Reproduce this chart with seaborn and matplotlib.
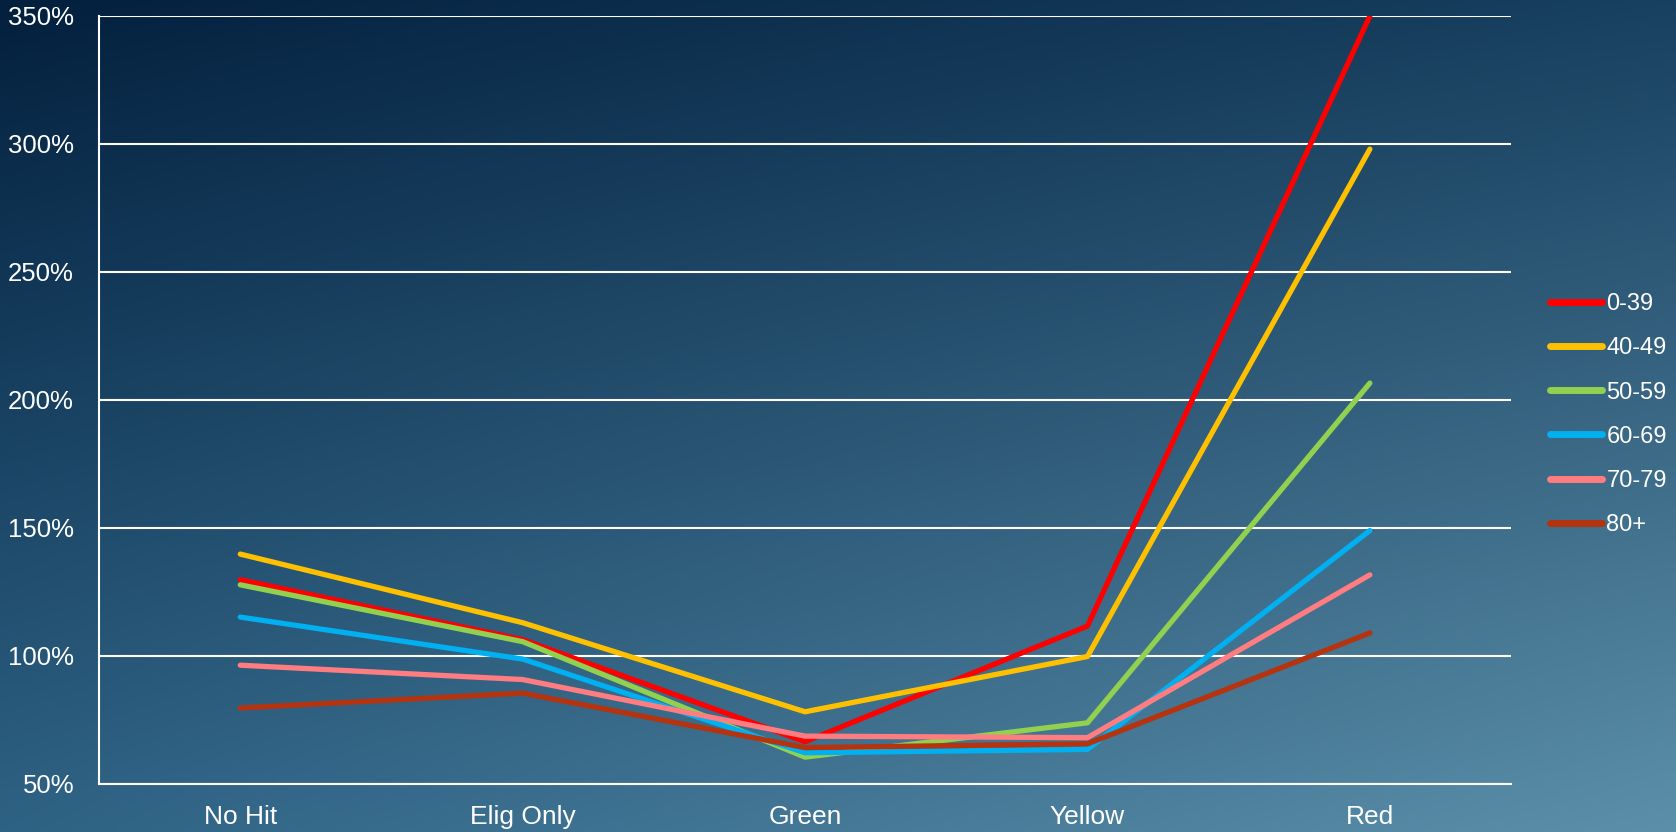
import numpy as np
import pandas as pd
import matplotlib
matplotlib.use('Agg')
import matplotlib.pyplot as plt
from matplotlib.ticker import FuncFormatter, FixedLocator
import seaborn as sns

# categories and series
categories = ['No Hit', 'Elig Only', 'Green', 'Yellow', 'Red']
groups = ['0-39', '40-49', '50-59', '60-69', '70-79', '80+']
v_0_39 = [129.8, 106.4, 66.5, 111.7, 350.0]
v_40_49 = [139.8, 113.0, 78.2, 99.8, 298.0]
v_50_59 = [127.8, 105.6, 60.5, 73.9, 206.6]
v_60_69 = [115.2, 98.8, 62.2, 63.5, 149.0]
v_70_79 = [96.4, 90.8, 68.7, 68.1, 131.7]
v_80p = [79.7, 85.5, 64.2, 65.7, 109.0]
colors = ['#FF0000', '#FFC000', '#92D050', '#00B0F0', '#FF7C80', '#B5330F']

series = [v_0_39, v_40_49, v_50_59, v_60_69, v_70_79, v_80p]
rows = []
for g, vals in zip(groups, series):
    for c, v in zip(categories, vals):
        rows.append({'category': c, 'group': g, 'value': v})
df = pd.DataFrame(rows)

sns.set_style('white')
plt.rcParams['font.family'] = ['Liberation Sans', 'DejaVu Sans']

fig = plt.figure(figsize=(16.76, 8.32), dpi=100)

# gradient background (dark navy top-left -> steel blue bottom-right)
bg = fig.add_axes([0, 0, 1, 1], zorder=-10)
tl = np.array([3, 32, 62]) / 255
tr = np.array([24, 64, 96]) / 255
bl = np.array([46, 98, 132]) / 255
br = np.array([92, 144, 170]) / 255
yy, xx = np.mgrid[0:1:200j, 0:1:400j]
grad = (tl[None, None, :] * ((1 - xx) * (1 - yy))[..., None]
        + tr[None, None, :] * (xx * (1 - yy))[..., None]
        + bl[None, None, :] * ((1 - xx) * yy)[..., None]
        + br[None, None, :] * (xx * yy)[..., None])
bg.imshow(grad, extent=[0, 1, 0, 1], aspect='auto', origin='upper')
bg.axis('off')

ax = fig.add_axes([0.0591, 0.0577, 0.8425, 0.9231])
ax.patch.set_alpha(0)

sns.lineplot(data=df, x='category', y='value', hue='group', palette=colors,
             sort=False, linewidth=3.8, ax=ax, solid_capstyle='round')

ax.set_xlim(-0.5, 4.5)
ax.set_ylim(50, 350)
ax.set_yticks([50, 100, 150, 200, 250, 300, 350])
ax.yaxis.set_major_formatter(FuncFormatter(lambda v, p: f'{v:.0f}%'))
ax.grid(axis='y', color='white', linewidth=1.5)
ax.set_axisbelow(True)

ax.set_xticks(range(len(categories)))
ax.set_xticklabels(categories)
ax.xaxis.set_minor_locator(FixedLocator(np.arange(-0.5, 5, 1)))
ax.tick_params(axis='x', which='major', length=0, pad=15, labelsize=19, colors='white')
ax.tick_params(axis='x', which='minor', length=8, width=1.3, color='white', direction='out')
ax.tick_params(axis='y', length=8, width=1.3, color='white', labelsize=18.5, labelcolor='white', pad=10)

for s in ['top', 'right']:
    ax.spines[s].set_visible(False)
for s in ['left', 'bottom']:
    ax.spines[s].set_color('white')
    ax.spines[s].set_linewidth(1.5)

ax.set_xlabel('')
ax.set_ylabel('')

leg = ax.legend(loc='upper left', bbox_to_anchor=(0.919, 0.659), bbox_transform=fig.transFigure,
                frameon=False, fontsize=17, handlelength=2.2, handletextpad=0.2,
                labelspacing=0.94, borderaxespad=0)
for t in leg.get_texts():
    t.set_color('white')
for h in leg.get_lines():
    h.set_linewidth(5)
    h.set_solid_capstyle('round')

fig.savefig('out.png', dpi=100)
